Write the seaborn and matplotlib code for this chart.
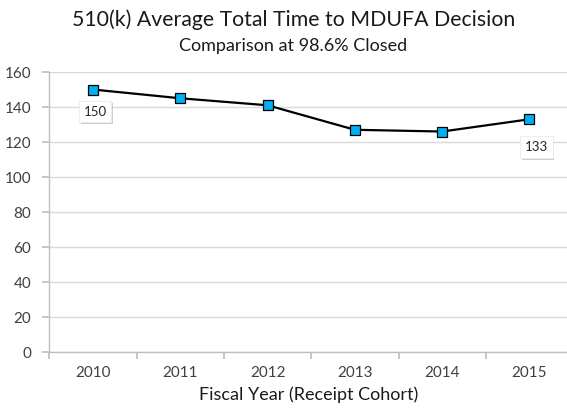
import matplotlib
matplotlib.use("Agg")
import matplotlib.pyplot as plt
import matplotlib.patheffects as pe
import seaborn as sns
import pandas as pd
import numpy as np

years = ["2010", "2011", "2012", "2013", "2014", "2015"]
avg_days = [150, 145, 141, 127, 126, 133]
labeled = {"2010": 150, "2015": 133}
y_ticks = [0, 20, 40, 60, 80, 100, 120, 140, 160]

sns.set_theme(style="white")
plt.rcParams['font.family'] = ['Lato', 'DejaVu Sans']

df = pd.DataFrame({"pos": np.arange(len(years)), "year": years, "days": avg_days})

fig = plt.figure(figsize=(5.67, 4.08), dpi=100)
ax = fig.add_axes([0.087, 0.137, 0.913, 0.6865])

sns.lineplot(data=df, x="pos", y="days", ax=ax, color="black", linewidth=1.6,
             marker="s", markersize=6.5, markerfacecolor="#00B0F0",
             markeredgecolor="black", markeredgewidth=0.9, zorder=3)

ax.set_ylim(0, 160)
ax.set_xlim(-0.5, 5.43)
ax.set_yticks(y_ticks)
ax.set_yticklabels([str(t) for t in y_ticks], fontsize=11, color="#404040")
ax.yaxis.grid(True, color="#D9D9D9", linewidth=1)
ax.set_axisbelow(True)

ax.set_xticks(np.arange(-0.5, 5.0, 1.0))
ax.set_xticklabels([])
ax.set_xticks(np.arange(len(years)), minor=True)
ax.set_xticklabels(years, minor=True, fontsize=11, color="#404040")
ax.tick_params(axis="x", which="major", length=5, color="#BFBFBF", direction="out", bottom=True)
ax.tick_params(axis="x", which="minor", length=0, pad=10)
ax.tick_params(axis="y", length=5, color="#BFBFBF", direction="out", left=True, pad=8)

for s in ["top", "right"]:
    ax.spines[s].set_visible(False)
for s in ["left", "bottom"]:
    ax.spines[s].set_color("#BFBFBF")
    ax.spines[s].set_linewidth(1)

ax.set_xlabel("Fiscal Year (Receipt Cohort)", fontsize=13, color="#1a1a1a", labelpad=5)
ax.set_ylabel("")

fig.text(0.517, 0.952, "510(k) Average Total Time to MDUFA Decision", ha="center", va="center",
         fontsize=15.3, color="#1a1a1a")
fig.text(0.517, 0.887, "Comparison at 98.6% Closed", ha="center", va="center",
         fontsize=13, color="#1a1a1a")

offsets = {"2010": (1.5, -16), "2015": (5, -20)}
for i, (yr, v) in enumerate(zip(years, avg_days)):
    if yr in labeled:
        dx, dy = offsets[yr]
        ann = ax.annotate(str(v), (i, v), xytext=(dx, dy), textcoords="offset points",
                          ha="center", va="center", fontsize=9.5, color="#262626",
                          bbox=dict(boxstyle="square,pad=0.35", fc="white", ec="#EBEBEB", lw=0.6),
                          zorder=5)
        ann.get_bbox_patch().set_path_effects([
            pe.SimplePatchShadow(offset=(1.2, -1.5), shadow_rgbFace="#B0B0B0", alpha=0.6),
            pe.Normal()])

fig.savefig("out.png", dpi=100)
